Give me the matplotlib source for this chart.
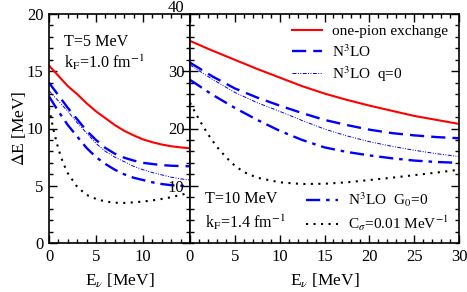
import numpy as np
import matplotlib
matplotlib.use("Agg")
import matplotlib.pyplot as plt
from matplotlib.ticker import MultipleLocator
from matplotlib.transforms import ScaledTranslation

plt.rcParams['font.family'] = ['Liberation Serif', 'DejaVu Serif']
plt.rcParams['mathtext.fontset'] = 'stix'
plt.rcParams['font.size'] = 12

# Left panel: T=5 MeV, kF=1.0 fm^-1
e5 = [0, 1, 2, 3, 4, 5, 6, 7, 8, 9, 10, 11, 12, 13, 14, 15]
ope5 = [15.5, 14.6, 13.7, 13.0, 12.2, 11.5, 10.9, 10.3, 9.8, 9.4, 9.05, 8.8, 8.6, 8.45, 8.35, 8.27]
n3lo5 = [14.0, 12.9, 11.8, 10.8, 9.8, 9.0, 8.3, 7.8, 7.45, 7.2, 7.0, 6.9, 6.8, 6.75, 6.72, 6.7]
q05 = [13.3, 12.4, 11.5, 10.5, 9.6, 8.7, 8.0, 7.5, 7.1, 6.7, 6.4, 6.15, 5.95, 5.75, 5.6, 5.5]
g05 = [12.8, 11.5, 10.3, 9.3, 8.3, 7.5, 6.9, 6.4, 6.0, 5.7, 5.5, 5.3, 5.15, 5.05, 5.0, 4.95]
e5_dot = [0, 0.5, 1, 1.5, 2, 3, 4, 5, 6, 7, 8, 9, 10, 11, 12, 13, 14, 15]
csig5 = [11.8, 9.8, 8.2, 7.0, 6.1, 4.9, 4.2, 3.85, 3.62, 3.52, 3.5, 3.55, 3.62, 3.72, 3.85, 4.0, 4.2, 4.4]

# Right panel: T=10 MeV, kF=1.4 fm^-1
e10 = [0, 2.5, 5, 7.5, 10, 12.5, 15, 17.5, 20, 22.5, 25, 27.5, 30]
ope10 = [35.3, 33.6, 32.0, 30.4, 28.9, 27.4, 26.1, 25.0, 24.0, 23.1, 22.2, 21.5, 20.8]
n3lo10 = [31.5, 29.1, 27.0, 25.4, 24.0, 22.7, 21.5, 20.6, 19.8, 19.2, 18.8, 18.5, 18.3]
q010 = [31.1, 28.6, 26.3, 24.5, 23.0, 21.4, 19.9, 18.7, 17.7, 16.9, 16.2, 15.6, 15.1]
g010 = [28.5, 25.9, 23.6, 21.5, 19.6, 18.0, 16.7, 15.9, 15.3, 14.8, 14.4, 14.15, 14.0]
e10_dot = [0, 1, 2, 3, 4, 5, 6, 7.5, 10, 12.5, 15, 17.5, 20, 22.5, 25, 27.5, 30]
csig10 = [24.5, 21.6, 19.0, 16.8, 15.0, 13.5, 12.4, 11.4, 10.6, 10.3, 10.35, 10.6, 11.0, 11.4, 11.85, 12.3, 12.8]

labels = ['one-pion exchange', r'N$^3$LO', r'N$^3$LO  q=0',
          r'N$^3$LO  G$_0$=0', r'C$_\sigma$=0.01 MeV$^{-1}$']

fig = plt.figure(figsize=(4.67, 2.92), dpi=100)
ax1 = fig.add_axes([49/467, 49/292, 141/467, 229/292])
ax2 = fig.add_axes([190/467, 49/292, 269/467, 229/292])


def draw(ax, e, ope, n3lo, q0, g0, ed, cs):
    l1, = ax.plot(e, ope, color='#ff0000', lw=1.5)
    l2, = ax.plot(e, n3lo, color='#0000ff', lw=1.7, dashes=(6, 3))
    l3, = ax.plot(e, q0, color='#0000ff', lw=0.7, dashes=(4, 1.5, 1, 1.5, 1, 1.5))
    l4, = ax.plot(e, g0, color='#0000ff', lw=1.7, dashes=(6, 2.5, 1.5, 2.5))
    l5, = ax.plot(ed, cs, color='black', lw=1.5, dashes=(1, 2.6))
    return [l1, l2, l3, l4, l5]


draw(ax1, e5, ope5, n3lo5, q05, g05, e5_dot, csig5)
lines = draw(ax2, e10, ope10, n3lo10, q010, g010, e10_dot, csig10)

ax1.set_xlim(0, 15)
ax1.set_ylim(0, 20)
ax1.xaxis.set_minor_locator(MultipleLocator(1))
ax1.yaxis.set_minor_locator(MultipleLocator(1))
ax1.set_xticks([0, 5, 10])
ax1.set_yticks([0, 5, 10, 15, 20])
ax1.set_ylabel(r'$\Delta$E [MeV]', fontsize=12.5, labelpad=-1)
ax1.set_xlabel(r'E$_\nu$ [MeV]', fontsize=12.5, labelpad=5)

ax2.set_xlim(0, 30)
ax2.set_ylim(0, 40)
ax2.xaxis.set_major_locator(MultipleLocator(5))
ax2.xaxis.set_minor_locator(MultipleLocator(1))
ax2.yaxis.set_minor_locator(MultipleLocator(2))
ax2.set_yticks([10, 20, 30, 40])
ax2.set_xlabel(r'E$_\nu$ [MeV]', fontsize=12.5, labelpad=5)

for ax in (ax1, ax2):
    ax.tick_params(which='both', direction='in', top=True, right=True, labelsize=12, pad=4)
    ax.tick_params(which='major', length=6, width=1)
    ax.tick_params(which='minor', length=3, width=1)
    for s in ax.spines.values():
        s.set_linewidth(1.2)

ax1.text(1.6, 17.55, 'T=5 MeV', va='center', ha='left', fontsize=11.6)
ax1.text(1.6, 15.8, r'k$_\mathrm{F}$=1.0 fm$^{-1}$', va='center', ha='left', fontsize=11.6)
ax2.text(1.67, 7.7, 'T=10 MeV', va='center', ha='left', fontsize=11.6)
ax2.text(1.67, 3.7, r'k$_\mathrm{F}$=1.4 fm$^{-1}$', va='center', ha='left', fontsize=11.6)

leg1 = ax2.legend(lines[:3], labels[:3], loc='upper right', frameon=False,
                  handlelength=2.0, handletextpad=0.65, labelspacing=0.3,
                  borderaxespad=0.3, fontsize=11)
ax2.add_artist(leg1)
ax2.legend(lines[3:], labels[3:], loc='lower right', frameon=False,
           handlelength=2.1, handletextpad=0.65, labelspacing=0.3,
           borderaxespad=0.25, fontsize=11)

# the 40 label of the right panel sits a little above the frame
top_lab = ax2.get_yticklabels()[-1]
top_lab.set_transform(top_lab.get_transform() + ScaledTranslation(0, 6/72, fig.dpi_scale_trans))

fig.savefig('out.png', dpi=100)
